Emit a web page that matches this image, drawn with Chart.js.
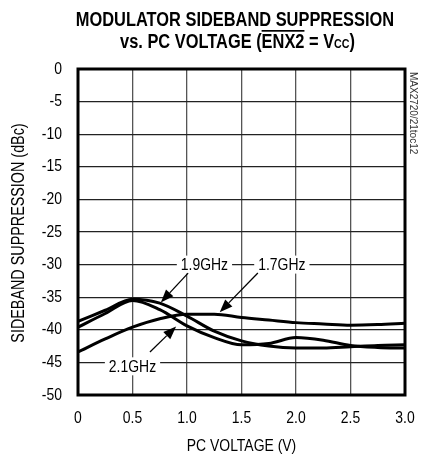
<!DOCTYPE html>
<html>
<head>
<meta charset="utf-8">
<script src="https://cdn.jsdelivr.net/npm/chart.js@4/dist/chart.umd.min.js"></script>
<style>
  html, body { margin: 0; padding: 0; background: #fff; }
  #wrap { width: 431px; height: 454px; position: relative; }
</style>
</head>
<body>
<div id="wrap"><canvas id="c" width="431" height="454"></canvas></div>
<script>
// PC control voltage (V)
const voltage = [0, 0.25, 0.5, 0.75, 1.0, 1.25, 1.5, 1.75, 2.0, 2.25, 2.5, 2.75, 3.0];
// Sideband suppression (dBc) per LO frequency
const supp17 = [-43.4, -41.4, -39.6, -38.3, -37.6, -37.6, -38.1, -38.5, -38.9, -39.1, -39.3, -39.2, -39.0];
const supp19 = [-38.7, -37.0, -35.3, -35.9, -37.9, -40.2, -41.7, -42.5, -42.8, -42.8, -42.6, -42.4, -42.3];
const supp21 = [-39.6, -37.5, -35.5, -36.9, -39.4, -41.2, -42.3, -42.1, -41.2, -41.6, -42.4, -42.7, -42.8];
const seriesNames = ['1.7GHz', '1.9GHz', '2.1GHz'];
const xTicks = [0, 0.5, 1.0, 1.5, 2.0, 2.5, 3.0];
const yTicks = [0, -5, -10, -15, -20, -25, -30, -35, -40, -45, -50];

// Curve callouts: label position and arrow tail/tip, in data units
const callouts = [
  { text: '1.9GHz', at: [1.16, -30.0], tail: [1.01, -31.3], tip: [0.76, -35.8] },
  { text: '1.7GHz', at: [1.87, -30.0], tail: [1.65, -31.3], tip: [1.30, -37.3] },
  { text: '2.1GHz', at: [0.50, -45.6], tail: [0.66, -43.4], tip: [0.90, -39.5] }
];

const FONT = '"Liberation Sans", Arial, Helvetica, sans-serif';
const NARROW = 0.82; // horizontal squeeze for a narrow-face look

function pts(ys) { return voltage.map((v, i) => ({ x: v, y: ys[i] })); }

// Draw horizontally condensed text; returns drawn width
function narrowText(ctx, text, x, y, font, align, baseline) {
  ctx.save();
  ctx.font = font;
  ctx.textBaseline = baseline || 'alphabetic';
  const w = ctx.measureText(text).width * NARROW;
  let x0 = x;
  if (align === 'center') x0 = x - w / 2;
  else if (align === 'right') x0 = x - w;
  ctx.translate(x0, y);
  ctx.scale(NARROW, 1);
  ctx.textAlign = 'left';
  ctx.fillText(text, 0, 0);
  ctx.restore();
  return w;
}
function narrowWidth(ctx, text, font) {
  ctx.save(); ctx.font = font;
  const w = ctx.measureText(text).width * NARROW;
  ctx.restore();
  return w;
}

const lineStyle = {
  borderColor: '#000', borderWidth: 3, pointRadius: 0,
  cubicInterpolationMode: 'monotone', fill: false
};

const decor = {
  id: 'decor',
  beforeDraw(chart) {
    const ctx = chart.ctx;
    ctx.save();
    ctx.fillStyle = '#fff';
    ctx.fillRect(0, 0, chart.width, chart.height);
    ctx.restore();
  },
  afterDatasetsDraw(chart) {
    const ctx = chart.ctx;
    const xs = chart.scales.x, ys = chart.scales.y;
    const a = chart.chartArea;
    ctx.save();
    ctx.fillStyle = '#000';

    // plot frame
    ctx.strokeStyle = '#000';
    ctx.lineWidth = 3;
    ctx.strokeRect(a.left, a.top, a.right - a.left, a.bottom - a.top);

    // tick labels from the scales' own ticks
    const tickFont = '17px ' + FONT;
    xs.ticks.forEach(t => {
      const px = xs.getPixelForValue(t.value);
      const s = t.value === 0 ? '0' : t.value.toFixed(1);
      narrowText(ctx, s, px, 418, tickFont, 'center', 'middle');
    });
    ys.ticks.forEach(t => {
      const py = ys.getPixelForValue(t.value);
      narrowText(ctx, String(t.value), 62, py, tickFont, 'right', 'middle');
    });

    // axis titles
    narrowText(ctx, 'PC VOLTAGE (V)', (a.left + a.right) / 2, 451, '17px ' + FONT, 'center', 'alphabetic');
    ctx.save();
    ctx.translate(19, (a.top + a.bottom) / 2 + 1);
    ctx.rotate(-Math.PI / 2);
    narrowText(ctx, 'SIDEBAND SUPPRESSION (dBc)', 0, 0, '17.5px ' + FONT, 'center', 'middle');
    ctx.restore();

    // callouts
    const cFont = '17px ' + FONT;
    callouts.forEach(c => {
      const px = xs.getPixelForValue(c.at[0]);
      const py = ys.getPixelForValue(c.at[1]);
      const w = narrowWidth(ctx, c.text, cFont);
      ctx.fillStyle = '#fff';
      ctx.fillRect(px - w / 2 - 4, py - 9, w + 8, 18);
      ctx.fillStyle = '#000';
      narrowText(ctx, c.text, px, py + 1, cFont, 'center', 'middle');

      const x1 = xs.getPixelForValue(c.tail[0]), y1 = ys.getPixelForValue(c.tail[1]);
      const x2 = xs.getPixelForValue(c.tip[0]), y2 = ys.getPixelForValue(c.tip[1]);
      const ang = Math.atan2(y2 - y1, x2 - x1);
      const L = 13, W = 5;
      ctx.strokeStyle = '#000';
      ctx.lineWidth = 1.3;
      ctx.beginPath();
      ctx.moveTo(x1, y1);
      ctx.lineTo(x2 - L * Math.cos(ang), y2 - L * Math.sin(ang));
      ctx.stroke();
      ctx.beginPath();
      ctx.moveTo(x2, y2);
      ctx.lineTo(x2 - L * Math.cos(ang) + W * Math.sin(ang), y2 - L * Math.sin(ang) - W * Math.cos(ang));
      ctx.lineTo(x2 - L * Math.cos(ang) - W * Math.sin(ang), y2 - L * Math.sin(ang) + W * Math.cos(ang));
      ctx.closePath();
      ctx.fill();
    });

    // chart title (with overline and subscript)
    ctx.fillStyle = '#000';
    const tBold = 'bold 20px ' + FONT;
    const tSub = 'bold 13px ' + FONT;
    narrowText(ctx, 'MODULATOR SIDEBAND SUPPRESSION', 235, 25.5, tBold, 'center', 'alphabetic');

    const parts = [
      { t: 'vs. PC VOLTAGE (', f: tBold, dy: 0 },
      { t: 'ENX2', f: tBold, dy: 0, over: true },
      { t: ' = V', f: tBold, dy: 0 },
      { t: 'CC', f: tSub, dy: 0.5 },
      { t: ')', f: tBold, dy: 0 }
    ];
    let total = 0;
    parts.forEach(p => { p.w = narrowWidth(ctx, p.t, p.f); total += p.w; });
    let cx = 237.5 - total / 2;
    parts.forEach(p => {
      narrowText(ctx, p.t, cx, 47.5 + p.dy, p.f, 'left', 'alphabetic');
      if (p.over) ctx.fillRect(cx, 30, p.w, 1.7);
      cx += p.w;
    });

    // figure code along right edge
    ctx.save();
    ctx.translate(413, 72);
    ctx.rotate(Math.PI / 2);
    ctx.font = '10px ' + FONT;
    ctx.fillStyle = '#333';
    ctx.textAlign = 'left';
    ctx.textBaseline = 'middle';
    ctx.fillText('MAX2720/21toc12', 0, 0);
    ctx.restore();

    ctx.restore();
  }
};

new Chart(document.getElementById('c'), {
  type: 'line',
  data: {
    datasets: [
      Object.assign({ label: seriesNames[0], data: pts(supp17) }, lineStyle),
      Object.assign({ label: seriesNames[1], data: pts(supp19) }, lineStyle),
      Object.assign({ label: seriesNames[2], data: pts(supp21) }, lineStyle)
    ]
  },
  options: {
    responsive: false,
    animation: false,
    devicePixelRatio: 1,
    layout: { padding: { top: 69, right: 26, left: 0, bottom: 0 } },
    plugins: { legend: { display: false }, tooltip: { enabled: false } },
    scales: {
      x: {
        type: 'linear', min: 0, max: 3,
        afterFit(s) { s.height = 59; },
        afterBuildTicks(s) { s.ticks = xTicks.map(v => ({ value: v })); },
        grid: { color: '#555', lineWidth: 1.3, drawTicks: false },
        border: { display: false },
        ticks: { display: false }
      },
      y: {
        type: 'linear', min: -50, max: 0,
        afterFit(s) { s.width = 78; },
        afterBuildTicks(s) { s.ticks = yTicks.map(v => ({ value: v })); },
        grid: { color: '#222', lineWidth: 1.3, drawTicks: false },
        border: { display: false },
        ticks: { display: false }
      }
    }
  },
  plugins: [decor]
});
</script>
</body>
</html>
